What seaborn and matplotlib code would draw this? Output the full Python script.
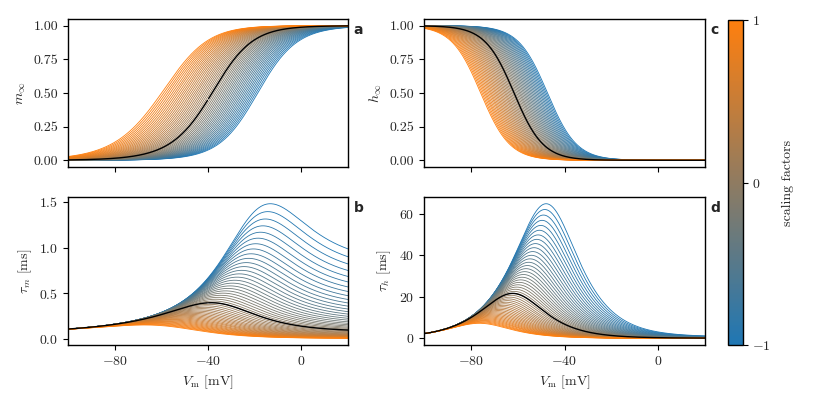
import numpy as np
import pandas as pd
import matplotlib
matplotlib.use('Agg')
import matplotlib.pyplot as plt
import seaborn as sns
from matplotlib.colors import LinearSegmentedColormap, Normalize
from matplotlib.cm import ScalarMappable

sns.set_theme(style='ticks')

# scaling factors (log10 of the rate multiplier), blue = -1, orange = +1
scaling_factors = np.linspace(-1, 1, 51)
voltage = np.linspace(-100, 20, 481)

# rate parameters
alpha_m_par = [12.0, -5.0, 15.5]     # max, Vhalf, k (sigmoid)
beta_m_par = [0.15, -40.0, 9.2]      # slope, V1, k  (linear-exponential)
alpha_h_par = [0.024, -62.0, 13.0]   # rate at V0, V0, k (exponential)
beta_h_par = [14.0, 14.0, 11.8]      # max, Vhalf, k (sigmoid)


def rates(v):
    a, va, k = alpha_m_par
    am = a / (1 + np.exp(-(v - va) / k))
    b, v1, k = beta_m_par
    bm = b * (v1 - v) / (1 - np.exp(-(v1 - v) / k))
    a, v0, k = alpha_h_par
    ah = a * np.exp(-(v - v0) / k)
    b, vb, kb = beta_h_par
    bh = b / (1 + np.exp(-(v - vb) / kb))
    return am, bm, ah, bh


am, bm, ah, bh = rates(voltage)
rows = []
for s in scaling_factors:
    f = 10.0 ** s
    rows.append(pd.DataFrame({
        'V': voltage, 's': s,
        'm_inf': f * am / (f * am + bm), 'tau_m': 1 / (f * am + bm),
        'h_inf': ah / (ah + f * bh), 'tau_h': 1 / (ah + f * bh),
    }))
df = pd.concat(rows, ignore_index=True)
ref = df[np.isclose(df['s'], 0)]

cmap = LinearSegmentedColormap.from_list('scal', ['tab:blue', 'tab:orange'])

plt.rcParams['font.family'] = ['cmr10']
plt.rcParams['mathtext.fontset'] = 'cm'
plt.rcParams['axes.formatter.use_mathtext'] = True
plt.rcParams['font.size'] = 10
for key in ['xtick.labelsize', 'ytick.labelsize', 'axes.labelsize']:
    plt.rcParams[key] = 10

fig = plt.figure(figsize=(8.3, 3.95), dpi=100)
W, H = 830, 395
boxes = {
    'a': [68, 19, 280, 148],
    'b': [68, 197, 280, 148],
    'c': [424, 19, 281, 148],
    'd': [424, 197, 281, 148],
}
cols = {'a': 'm_inf', 'b': 'tau_m', 'c': 'h_inf', 'd': 'tau_h'}
ylabels = {'a': r'$m_\infty$', 'b': r'$\tau_m$ [ms]',
           'c': r'$h_\infty$', 'd': r'$\tau_h$ [ms]'}

for name, (x, y, w, h) in boxes.items():
    ax = fig.add_axes([x / W, 1 - (y + h) / H, w / W, h / H])
    sns.lineplot(data=df, x='V', y=cols[name], hue='s', palette=cmap,
                 hue_norm=(-1, 1), estimator=None, legend=False, lw=0.6, ax=ax)
    ax.plot(ref['V'], ref[cols[name]], color='black', lw=1.0)
    ax.set_xlim(-100, 20)
    ax.set_xticks([-80, -40, 0])
    ax.set_ylabel(ylabels[name])
    if name in ('a', 'c'):
        ax.set_yticks([0, 0.25, 0.5, 0.75, 1.0])
        ax.set_yticklabels(['0.00', '0.25', '0.50', '0.75', '1.00'])
        ax.set_xticklabels([])
        ax.set_xlabel('')
    else:
        ax.set_xlabel(r'$V_\mathrm{m}$ [mV]')
    if name == 'b':
        ax.set_yticks([0, 0.5, 1.0, 1.5])
    if name == 'd':
        ax.set_yticks([0, 20, 40, 60])
    for sp in ax.spines.values():
        sp.set_color('black')
        sp.set_linewidth(1.0)
    ax.tick_params(length=3.5, width=0.8, color='black')
    ax.text(1.02, 0.97, name, transform=ax.transAxes, fontsize=10,
            fontweight='bold', family='DejaVu Sans', va='top', ha='left')

cax = fig.add_axes([728 / W, 1 - 345 / H, 14.5 / W, 325 / H])
cb = fig.colorbar(ScalarMappable(norm=Normalize(-1, 1), cmap=cmap), cax=cax)
cb.set_ticks([-1, 0, 1])
cb.set_label('scaling factors', labelpad=8)
cb.outline.set_edgecolor('black')
cb.outline.set_linewidth(1.0)
cax.tick_params(length=3.5, width=0.8, color='black')

fig.savefig('out.png', dpi=100)
